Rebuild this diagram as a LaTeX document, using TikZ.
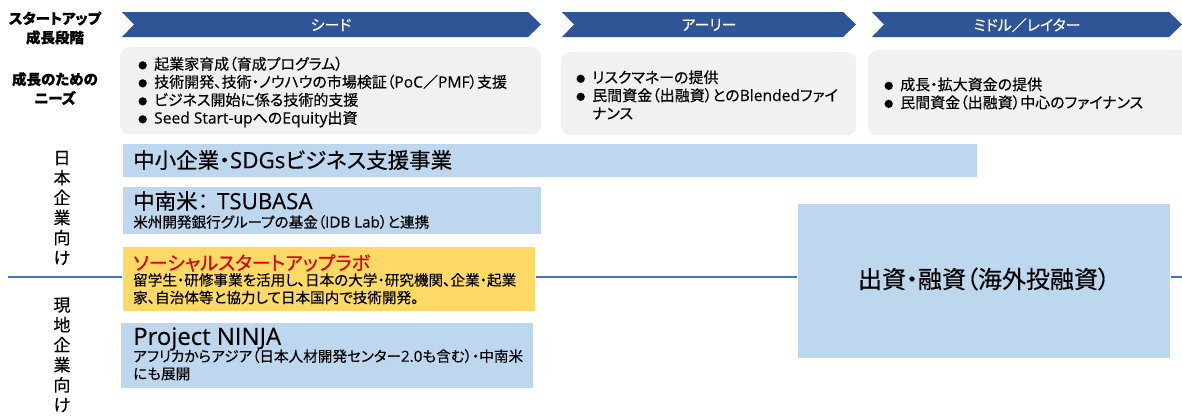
\documentclass[tikz,border=0pt]{standalone}
\usepackage{fontspec}
\setmainfont{Noto Sans CJK JP}[RawFeature=+palt,FakeBold=0.4]
\newfontfamily\lat{Open Sans}[Scale=1.04,FakeBold=0.3]
\newcommand{\la}[1]{{\lat #1}}
\definecolor{chevblue}{HTML}{2F5597}
\definecolor{greyfill}{HTML}{F1F1F1}
\definecolor{barblue}{HTML}{BDD7EE}
\definecolor{baryellow}{HTML}{FFD966}
\definecolor{labred}{HTML}{E00000}
\definecolor{lineblue}{HTML}{4472C4}
\newcommand{\fs}[2]{\fontsize{#1}{#2}\selectfont}
\newcommand{\bul}{\makebox[16pt][l]{\raisebox{0.8pt}{\fs{9}{9}●}}}
\begin{document}
\begin{tikzpicture}[x=1pt,y=-1pt,
  chev/.style={fill=chevblue},
  chevtext/.style={text=white,font=\fs{15}{16},inner sep=0},
  greybox/.style={fill=greyfill,rounded corners=9pt,inner sep=0,anchor=north west},
  bluebar/.style={fill=barblue,draw=white,line width=0.6pt,inner sep=0,anchor=north west},
  yellowbar/.style={fill=baryellow,draw=white,line width=0.6pt,inner sep=0,anchor=north west},
  sidelbl/.style={font=\bfseries\fs{14.5}{19},align=center,inner sep=0},
  bullets/.style={font=\fs{15}{18},align=left,anchor=west,inner sep=0},
  bartitle/.style={font=\fs{21.5}{22},anchor=west,inner sep=0},
  bartext/.style={font=\fs{14.6}{17.5},align=left,anchor=north west,inner sep=0},
  vlbl/.style={font=\fs{17}{20},align=center,inner sep=0},
  hline/.style={draw=lineblue,line width=1.8pt}]
\useasboundingbox (0,0) rectangle (1182,416);

% divider line
\coordinate (hl1) at (8,277);
\coordinate (hl2) at (1182,277);
\draw[hline] (hl1) -- (hl2);

% left labels
\node[sidelbl] (stage) at (55,28) {スタートアップ\\成長段階};
\node[sidelbl] (needs) at (55,88.5) {成長のための\\ニーズ};

% chevrons
\fill[chev] (122,12) -- (528,12) -- (541,24.5) -- (528,37) -- (122,37) -- (134,24.5) -- cycle;
\fill[chev] (562,12) -- (843,12) -- (856,24.5) -- (843,37) -- (562,37) -- (574,24.5) -- cycle;
\fill[chev] (872,12) -- (1169,12) -- (1182,24.5) -- (1169,37) -- (872,37) -- (884,24.5) -- cycle;
\node[chevtext] (seedlbl) at (331,25) {シード};
\node[chevtext] (earlylbl) at (709,25) {アーリー};
\node[chevtext] (midlbl) at (1027,25) {ミドル／レイター};

% grey need boxes
\node[greybox,minimum width=421pt,minimum height=87pt] (seedbox) at (120,47) {};
\node[greybox,minimum width=295pt,minimum height=83pt] (earlybox) at (561,52) {};
\node[greybox,minimum width=320pt,minimum height=85pt] (midbox) at (868,50) {};

\node[bullets] (seedtxt) at (138,92) {\bul 起業家育成（育成プログラム）\\
\bul 技術開発、技術・ノウハウの市場検証（\la{PoC}／\la{PMF}）支援\\
\bul ビジネス開始に係る技術的支援\\
\bul \la{Seed Start-up}への\la{Equity}出資};
\node[bullets] (earlytxt) at (576,95) {\bul リスクマネーの提供\\
\bul 民間資金（出融資）との\la{Blended}ファイ\\
\hspace*{16pt}ナンス};
\node[bullets] (midtxt) at (884,93.5) {\bul 成長・拡大資金の提供\\
\bul 民間資金（出融資）中心のファイナンス};

% vertical labels
\node[vlbl] (jpco) at (62,208) {日\\本\\企\\業\\向\\け};
\node[vlbl] (localco) at (62,355) {現\\地\\企\\業\\向\\け};

% programme bars
\node[bluebar,minimum width=855pt,minimum height=34pt] (sdgs) at (122,143) {};
\node[bartitle] (sdgst) at (133,160) {中小企業・\la{SDGs}ビジネス支援事業};

\node[bluebar,minimum width=419pt,minimum height=48pt] (tsubasa) at (122,186) {};
\node[bartitle] (tsubasat) at (133,201) {中南米：\hspace{0.4em}\la{TSUBASA}};
\node[bartext,anchor=west] (tsubasas) at (133,222) {米州開発銀行グループの基金（\la{IDB Lab}）と連携};

\node[yellowbar,minimum width=413pt,minimum height=65pt] (ssl) at (122,246) {};
\node[bartitle,text=labred,font=\fs{19}{22}] (sslt) at (133,263) {ソーシャルスタートアップラボ};
\node[bartext] (ssls) at (133,273) {留学生・研修事業を活用し、日本の大学・研究機関、企業・起業\\家、自治体等と協力して日本国内で技術開発。};

\node[bluebar,minimum width=413pt,minimum height=66pt] (ninja) at (120,322) {};
\node[bartitle,font=\fs{23}{24}] (ninjat) at (133,339) {\la{Project NINJA}};
\node[bartext] (ninjas) at (133,349) {アフリカからアジア（日本人材開発センター\la{2.0}も含む）・中南米\\にも展開};

\node[bluebar,minimum width=373pt,minimum height=155pt] (invest) at (797,203) {};
\node[font=\fs{24}{24},inner sep=0] (investt) at (984,279) {出資・融資（海外投融資）};
\end{tikzpicture}
\end{document}
